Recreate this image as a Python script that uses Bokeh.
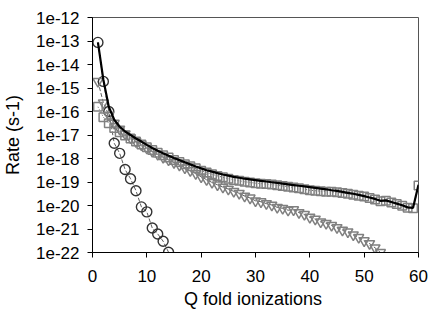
import numpy as np
from bokeh.plotting import figure
from bokeh.models import FixedTicker, CustomJSTickFormatter, Range1d
from bokeh.embed import file_html
from bokeh.resources import INLINE

# Q fold ionizations
q_total = list(range(1, 61))
# log10 of rates (s-1)
total_log = [-13.06, -14.65, -15.80, -16.35, -16.65, -16.85, -17.00, -17.15, -17.28, -17.42,
             -17.55, -17.67, -17.78, -17.88, -17.98, -18.07, -18.16, -18.25, -18.34, -18.42,
             -18.50, -18.56, -18.62, -18.68, -18.73, -18.78, -18.82, -18.86, -18.89, -18.92,
             -18.95, -18.98, -19.01, -19.04, -19.07, -19.10, -19.13, -19.16, -19.19, -19.22,
             -19.25, -19.28, -19.31, -19.35, -19.38, -19.42, -19.46, -19.50, -19.55, -19.60,
             -19.66, -19.72, -19.80, -19.78, -19.85, -19.92, -19.99, -20.08, -20.10, -19.12]

q_circ = list(range(1, 15))
circ_log = [-13.06, -14.72, -16.00, -17.35, -17.78, -18.47, -18.86, -19.37, -20.06, -20.27,
            -20.96, -21.21, -21.52, -21.99]

q_tri = list(range(1, 54))
tri_log = [-14.72, -15.63, -16.15, -16.50, -16.75, -16.95, -17.12, -17.28, -17.42, -17.56,
           -17.70, -17.82, -17.95, -18.06, -18.17, -18.28, -18.40, -18.52, -18.64, -18.78,
           -18.90, -19.02, -19.12, -19.22, -19.30, -19.40, -19.48, -19.60, -19.68, -19.80,
           -19.84, -19.92, -19.98, -20.08, -20.12, -20.20, -20.18, -20.30, -20.38, -20.50,
           -20.58, -20.70, -20.76, -20.85, -20.94, -21.05, -21.12, -21.25, -21.36, -21.50,
           -21.62, -21.80, -22.00]

q_sq = list(range(1, 61))
sq_log = [-15.80, -16.24, -16.50, -16.70, -16.88, -17.02, -17.15, -17.28, -17.40, -17.52,
          -17.64, -17.75, -17.86, -17.96, -18.06, -18.15, -18.24, -18.33, -18.42, -18.52,
          -18.60, -18.67, -18.74, -18.80, -18.86, -18.91, -18.95, -18.99, -19.02, -19.05,
          -19.07, -19.09, -19.11, -19.14, -19.17, -19.20, -19.23, -19.27, -19.31, -19.35,
          -19.37, -19.39, -19.41, -19.42, -19.44, -19.47, -19.50, -19.54, -19.58, -19.62,
          -19.68, -19.74, -19.82, -19.80, -19.87, -19.94, -20.01, -20.10, -20.12, -19.15]

x_ticks = [0, 10, 20, 30, 40, 50, 60]
y_tick_exps = [-22, -21, -20, -19, -18, -17, -16, -15, -14, -13, -12]

def rate(logs):
    return np.power(10.0, np.array(logs))

FONT = "Liberation Sans"

p = figure(width=430, height=315, y_axis_type="log",
           x_range=Range1d(0, 60), y_range=Range1d(1e-22, 1e-12),
           output_backend="svg", toolbar_location=None,
           min_border_left=91, min_border_right=12, min_border_top=17, min_border_bottom=63)
p.background_fill_color = "white"
p.border_fill_color = "white"
p.outline_line_color = "#555555"
p.outline_line_width = 1
p.xgrid.visible = False
p.ygrid.visible = False

# series
p.line(q_circ, rate(circ_log), line_color="#333333", line_width=0.8, line_dash="4 2")
p.scatter(q_circ, rate(circ_log), marker="circle", size=10, fill_color=None,
          line_color="#333333", line_width=1.4)

p.line(q_tri, rate(tri_log), line_color="#333333", line_width=0.8, line_dash="4 2")
p.scatter(q_tri, rate(tri_log), marker="inverted_triangle", size=10, fill_color=None,
          line_color="#808080", line_width=1.5)

p.line(q_sq, rate(sq_log), line_color="#333333", line_width=0.8, line_dash="1 2")
p.scatter(q_sq, rate(sq_log), marker="square", size=8.5, fill_color=None,
          line_color="#808080", line_width=1.5)

p.line(q_total, rate(total_log), line_color="black", line_width=2.2)

# axes
p.xaxis.ticker = FixedTicker(ticks=x_ticks)
p.yaxis.ticker = FixedTicker(ticks=[10.0 ** e for e in y_tick_exps], minor_ticks=[])
p.yaxis.formatter = CustomJSTickFormatter(code="return '1e' + Math.round(Math.log10(tick));")
for ax in (p.xaxis[0], p.yaxis[0]):
    ax.axis_line_color = "black"
    ax.axis_line_width = 1
    ax.major_tick_line_color = "black"
    ax.major_tick_in = 0
    ax.major_tick_out = 5
    ax.minor_tick_line_color = None
    ax.major_label_text_font = FONT
    ax.major_label_text_font_size = "17px"
    ax.major_label_text_color = "black"
    ax.axis_label_text_font = FONT
    ax.axis_label_text_font_size = "18px"
    ax.axis_label_text_font_style = "normal"
    ax.axis_label_text_color = "black"

p.xaxis.axis_label = "Q fold  ionizations"
p.yaxis.axis_label = "Rate (s-1)"
p.xaxis.major_label_standoff = 12
p.xaxis.axis_label_standoff = 4
p.yaxis.major_label_standoff = 8
p.yaxis.axis_label_standoff = 10

open("out.html", "w").write(file_html(p, INLINE))
